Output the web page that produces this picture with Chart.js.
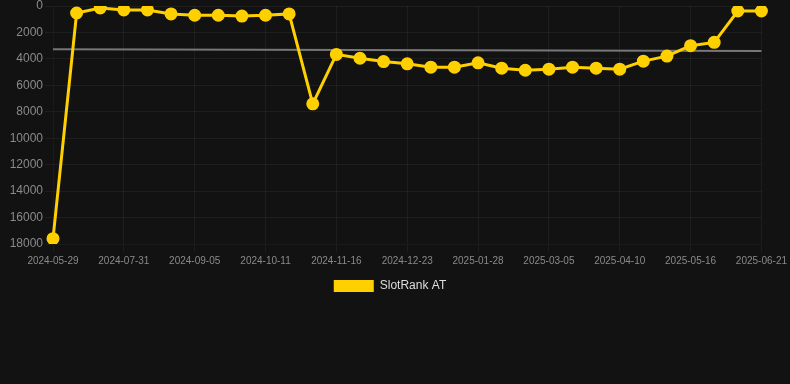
<!DOCTYPE html>
<html>
<head>
<meta charset="utf-8">
<script src="https://cdn.jsdelivr.net/npm/chart.js@4/dist/chart.umd.min.js"></script>
<style>
  html, body { margin: 0; padding: 0; background: #121212; }
  #wrap { width: 790px; height: 302px; position: relative; }
</style>
</head>
<body>
<div id="wrap"><canvas id="rankChart"></canvas></div>
<script>
"use strict";

let dates = [
  "2024-05-29", "2024-07-07", "2024-07-19", "2024-07-31", "2024-08-12", "2024-08-24",
  "2024-09-05", "2024-09-17", "2024-09-29", "2024-10-11", "2024-10-23", "2024-11-04",
  "2024-11-16", "2024-11-28", "2024-12-11", "2024-12-23", "2025-01-04", "2025-01-16",
  "2025-01-28", "2025-02-09", "2025-02-21", "2025-03-05", "2025-03-17", "2025-03-29",
  "2025-04-10", "2025-04-22", "2025-05-04", "2025-05-16", "2025-05-28", "2025-06-09",
  "2025-06-21",
];
let ranks = [
  17600, 530, 150, 300, 300, 600, 700, 700, 760, 700, 600, 7400,
  3660, 3950, 4200, 4370, 4630, 4630, 4300, 4700, 4860, 4780, 4630, 4700,
  4780, 4170, 3790, 3000, 2750, 380, 380,
];
// trend line: only start and end values, gaps spanned
let trend = dates.map(() => null);
trend[0] = 3280;
trend[dates.length - 1] = 3410;
let yTicks = [0, 2000, 4000, 6000, 8000, 10000, 12000, 14000, 16000, 18000];

// nudge the legend a bit left, like the original
let legendShift = {
  id: "legendShift",
  afterLayout: (chart) => {
    chart.legend.left -= 5;
    chart.legend.right -= 5;
  },
};

let ctx = document.getElementById("rankChart").getContext("2d");
let rankChart = new Chart(ctx, {
  type: "line",
  data: {
    labels: dates,
    datasets: [
      {
        label: "SlotRank AT",
        data: ranks,
        borderColor: "#ffd000",
        backgroundColor: "#ffd000",
        borderWidth: 3,
        pointRadius: 5,
        pointHoverRadius: 6,
        tension: 0,
        order: 1,
      },
      {
        label: "trend",
        data: trend,
        borderColor: "#777777",
        borderWidth: 2,
        pointRadius: 0,
        spanGaps: true,
        order: 2,
      },
    ],
  },
  plugins: [legendShift],
  options: {
    responsive: true,
    maintainAspectRatio: false,
    animation: false,
    layout: { padding: 0, autoPadding: false },
    scales: {
      x: {
        grid: { color: "rgba(255,255,255,0.05)" },
        ticks: {
          color: "#8a8a8a",
          font: { size: 10 },
          maxRotation: 0,
          autoSkip: false,
          callback: function (val, i) {
            return i % 3 === 0 ? dates[i] : null;
          },
        },
      },
      y: {
        reverse: true,
        min: 0,
        max: 18000,
        grid: { color: "rgba(255,255,255,0.05)" },
        afterBuildTicks: (axis) => {
          axis.ticks = yTicks.map((v) => ({ value: v }));
        },
        afterFit: (axis) => {
          axis.width = 53;
          axis.paddingTop = 6;
        },
        ticks: {
          color: "#8a8a8a",
          font: { size: 12 },
          padding: 2,
          callback: (v) => String(v),
        },
      },
    },
    plugins: {
      legend: {
        position: "bottom",
        labels: {
          color: "#dddddd",
          font: { size: 12 },
          boxWidth: 40,
          generateLabels: (chart) => {
            let items = Chart.defaults.plugins.legend.labels.generateLabels(chart);
            return items
              .filter((item) => item.datasetIndex === 0)
              .map((item) => Object.assign(item, { lineWidth: 0 }));
          },
        },
      },
      tooltip: { enabled: false },
    },
  },
});
</script>
</body>
</html>
